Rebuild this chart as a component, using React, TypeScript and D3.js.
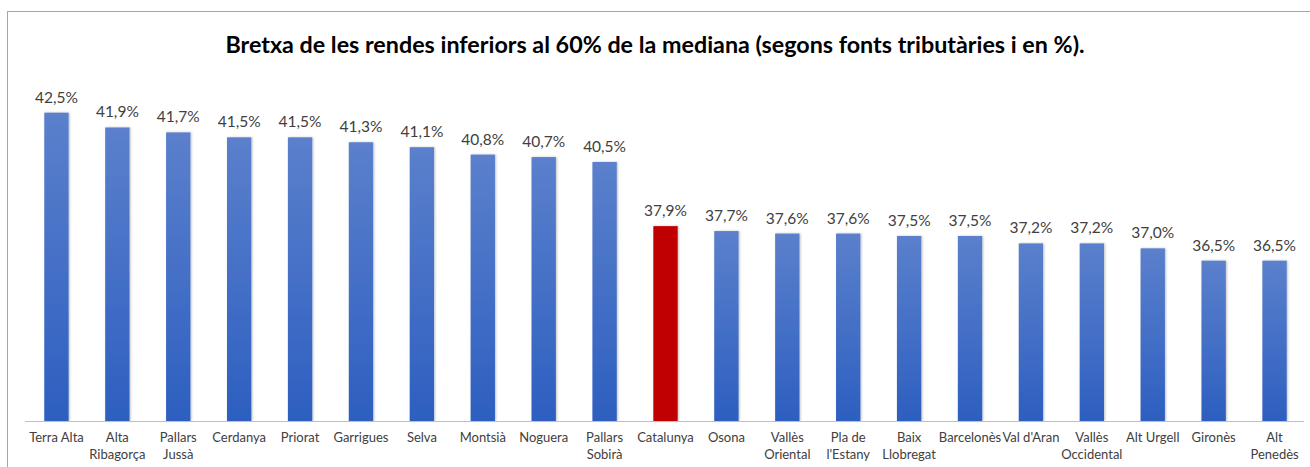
import React, { useEffect, useRef } from 'react';
import * as d3 from 'd3';

const comarques: string[][] = [
  ['Terra Alta'], ['Alta', 'Ribagorça'], ['Pallars', 'Jussà'], ['Cerdanya'], ['Priorat'],
  ['Garrigues'], ['Selva'], ['Montsià'], ['Noguera'], ['Pallars', 'Sobirà'],
  ['Catalunya'], ['Osona'], ['Vallès', 'Oriental'], ['Pla de', "l'Estany"], ['Baix', 'Llobregat'],
  ['Barcelonès'], ["Val d'Aran"], ['Vallès', 'Occidental'], ['Alt Urgell'], ['Gironès'], ['Alt', 'Penedès'],
];
const valors = [42.5, 41.9, 41.7, 41.5, 41.5, 41.3, 41.1, 40.8, 40.7, 40.5, 37.9, 37.7, 37.6, 37.6, 37.5, 37.5, 37.2, 37.2, 37.0, 36.5, 36.5];
const destacat = 'Catalunya';

const W = 1310;
const H = 467;

const App = () => {
  const ref = useRef<SVGSVGElement>(null);

  useEffect(() => {
    const svg = d3.select(ref.current);
    svg.selectAll('*').remove();

    const data = comarques.map((c, i) => ({ nom: c, key: c.join(' '), v: valors[i] }));

    const defs = svg.append('defs');
    const grad = defs.append('linearGradient').attr('id', 'barGrad').attr('x1', 0).attr('y1', 0).attr('x2', 0).attr('y2', 1);
    grad.append('stop').attr('offset', '0%').attr('stop-color', '#5b80cc');
    grad.append('stop').attr('offset', '100%').attr('stop-color', '#2d5fc0');
    const shadow = defs.append('filter').attr('id', 'shadow').attr('x', '-20%').attr('y', '-5%').attr('width', '140%').attr('height', '110%');
    shadow.append('feDropShadow').attr('dx', 1).attr('dy', 0).attr('stdDeviation', 1).attr('flood-color', '#000').attr('flood-opacity', 0.25);

    svg.append('rect').attr('width', W).attr('height', H).attr('fill', '#fff');
    // chart frame (cut off at right/bottom)
    svg.append('rect')
      .attr('x', 7.5).attr('y', 11.5).attr('width', W + 10).attr('height', H + 10)
      .attr('fill', 'none').attr('stroke', '#a6a6a6').attr('stroke-width', 1);

    const x = d3.scaleBand().domain(data.map((d) => d.key)).range([26, 1305]).paddingInner(0.6).paddingOuter(0.3);
    const y = d3.scaleLinear().domain([30, 45]).range([421, 51]);

    svg.append('text')
      .attr('x', 655).attr('y', 53)
      .attr('text-anchor', 'middle')
      .style('font-family', 'Lato, "Open Sans", sans-serif')
      .style('font-weight', 'bold')
      .style('font-size', '23.3px')
      .attr('fill', '#000')
      .text('Bretxa de les rendes inferiors al 60% de la mediana (segons fonts tributàries i en %).');

    svg.append('g').selectAll('rect').data(data).join('rect')
      .attr('x', (d) => x(d.key)!)
      .attr('y', (d) => y(d.v))
      .attr('width', x.bandwidth())
      .attr('height', (d) => y(30) - y(d.v))
      .attr('fill', (d) => (d.key === destacat ? '#c00000' : 'url(#barGrad)'))
      .attr('filter', 'url(#shadow)');

    svg.append('g').selectAll('text').data(data).join('text')
      .attr('x', (d) => x(d.key)! + x.bandwidth() / 2)
      .attr('y', (d) => y(d.v) - 10)
      .attr('text-anchor', 'middle')
      .style('font-family', 'Lato, "Open Sans", sans-serif')
      .style('font-size', '15.5px')
      .attr('fill', '#404040')
      .text((d) => d3.format('.1f')(d.v).replace('.', ',') + '%');

    const axis = svg.append('g').attr('transform', 'translate(0,421)')
      .call(d3.axisBottom(x).tickSize(0).tickFormat(() => ''));
    axis.select('.domain').attr('stroke', '#bfbfbf').attr('d', 'M25,0.5H1304');

    const lbl = svg.append('g').selectAll('text').data(data).join('text')
      .attr('x', (d) => x(d.key)! + x.bandwidth() / 2)
      .attr('y', 442)
      .attr('text-anchor', 'middle')
      .style('font-family', 'Lato, "Open Sans", sans-serif')
      .style('font-size', '13px')
      .attr('fill', '#404040');
    lbl.selectAll('tspan').data((d) => d.nom.map((t) => ({ t, cx: x(d.key)! + x.bandwidth() / 2 }))).join('tspan')
      .attr('x', (t) => t.cx)
      .attr('dy', (_t, i) => (i === 0 ? 0 : 17))
      .text((t) => t.t);
  }, []);

  return <svg ref={ref} width={W} height={H} style={{ position: 'absolute', left: 0, top: 0 }} />;
};

export default App;
